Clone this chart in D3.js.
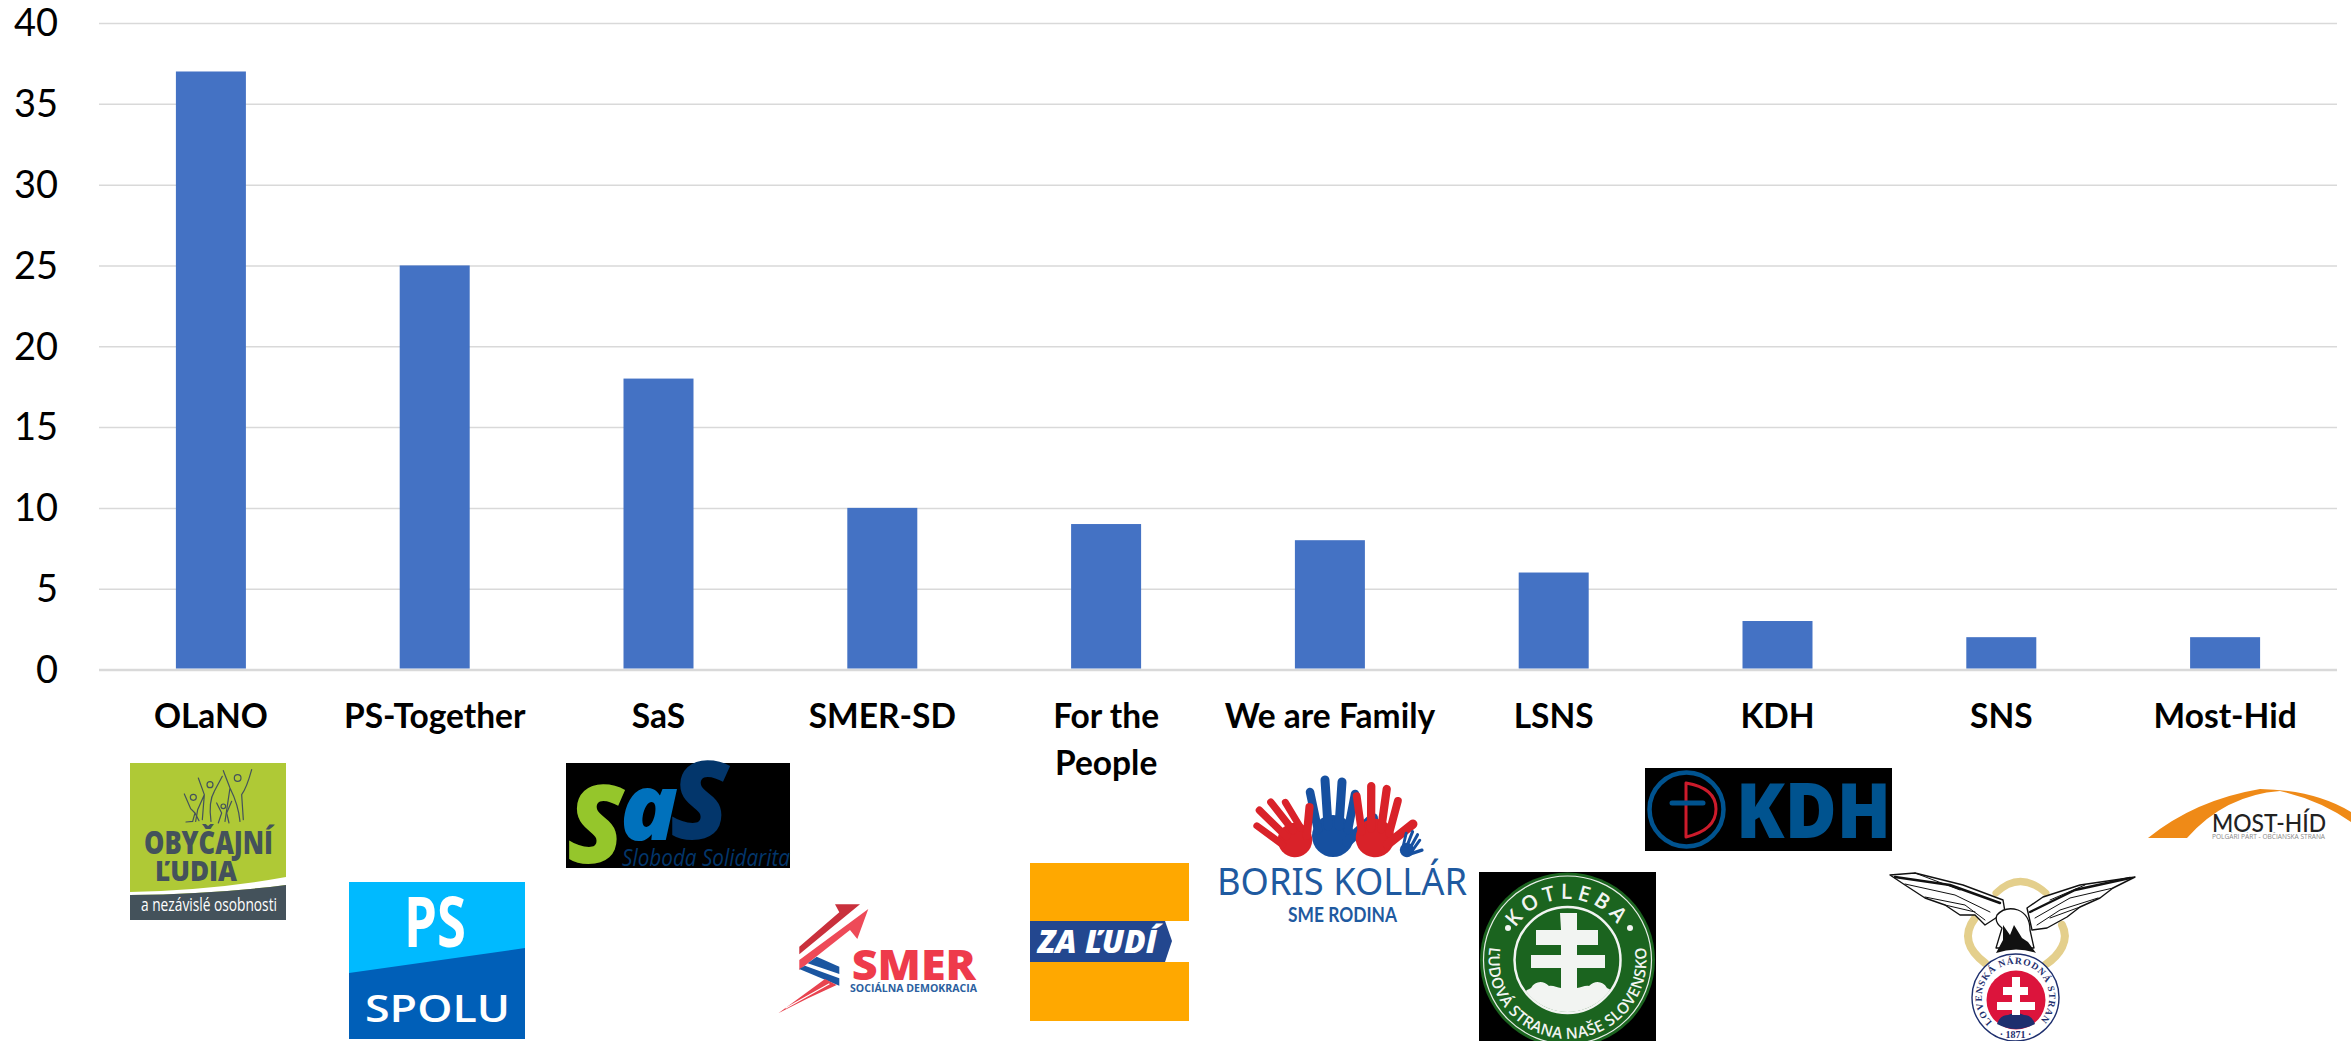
<!DOCTYPE html>
<html><head><meta charset="utf-8">
<script src="https://cdn.jsdelivr.net/npm/d3@7/dist/d3.min.js"></script>
<style>html,body{margin:0;padding:0;background:#fff;overflow:hidden}svg{display:block}</style>
</head><body><svg id="c" width="2351" height="1041"></svg>
<script>
const categories=["OLaNO","PS-Together","SaS","SMER-SD","For the People","We are Family","LSNS","KDH","SNS","Most-Hid"];
const seats=[37,25,18,10,9,8,6,3,2,2];
const yTicks=[0,5,10,15,20,25,30,35,40];
const wrapped={"For the People":["For the","People"]};

const svg=d3.select("#c");
const pad=1-70/223.8;
const x=d3.scaleBand().domain(categories).range([99,2337]).paddingInner(pad).paddingOuter(pad/2);
const y=d3.scaleLinear().domain([0,40]).range([669.5,23]);
const FONT="Lato, sans-serif";

const gy=svg.append("g").attr("transform","translate(99,0)")
 .call(d3.axisLeft(y).tickValues(yTicks).tickSize(-2238).tickPadding(41).tickFormat(d3.format("d")));
gy.select(".domain").remove();
gy.selectAll(".tick line").attr("stroke","#D9D9D9").attr("stroke-width",d=>d===0?2.5:1.5);
gy.selectAll(".tick text").attr("fill","#000").attr("font-family",FONT).attr("font-size",38).attr("dy","0.34em");

svg.append("g").selectAll("rect").data(categories).join("rect")
 .attr("x",d=>x(d)).attr("width",x.bandwidth())
 .attr("y",(d,i)=>y(seats[i])).attr("height",(d,i)=>y(0)-y(seats[i])-1).attr("fill","#4472C4");

const gx=svg.append("g").attr("transform","translate(0,670)").call(d3.axisBottom(x).tickSize(0).tickPadding(0));
gx.select(".domain").remove();
gx.selectAll(".tick text").each(function(d){
  const t=d3.select(this).text(null).attr("font-family",FONT).attr("font-weight",700).attr("font-size",33.5).attr("fill","#000").attr("y",0).attr("dy",null);
  (wrapped[d]||[d]).forEach((s,i)=>{t.append("tspan").attr("x",0).attr("y",58+i*46.5).text(s);});
});

// ---------- logos ----------
const L=svg.append("g");
const OS="'Open Sans',sans-serif";
function rect(a,b,c,d,f){return L.append("rect").attr("x",a).attr("y",b).attr("width",c-a).attr("height",d-b).attr("fill",f)}
function poly(p,f){return L.append("polygon").attr("points",p.map(q=>q.join(",")).join(" ")).attr("fill",f)}
function path(d,f,s,w){return L.append("path").attr("d",d).attr("fill",f||"none").attr("stroke",s||"none").attr("stroke-width",w||0).attr("stroke-linecap","round").attr("stroke-linejoin","round")}
function txt(s,x0,x1,base,size,fill,o={}){return L.append("text").attr("x",x0).attr("y",base).attr("font-family",o.font||OS).attr("font-size",size)
  .attr("font-weight",o.w||700).attr("font-style",o.i?"italic":"normal").attr("fill",fill).attr("textLength",x1-x0).attr("lengthAdjust","spacingAndGlyphs").text(s)}
const defs=L.append("defs");

// OLaNO
rect(130,763,286,920,"#AFC936");
path("M130 892 Q215 890 286 877 L286 885 Q215 894 130 895 Z","#fff");
path("M130 895 Q215 894 286 885 L286 920 L130 920 Z","#44525B");
txt("OBYČAJNÍ",144,273,854,31,"#44525B",{w:800});
txt("ĽUDIA",155,237,881,29,"#44525B",{w:800});
txt("a nezávislé osobnosti",141,277,911,19,"#fff",{w:400});
const P=L.append("g").attr("transform","translate(125,758) scale(0.3333)").attr("fill","none").attr("stroke","#44525B").attr("stroke-width",3.6).attr("stroke-linecap","round");
["M178 108 L197 152 L210 165 L203 190 L183 192 M210 165 L222 188",
 "M220 60 L238 110 L218 155 L212 190 M238 110 L232 185 M268 100 Q250 130 258 190 M268 100 L292 55",
 "M295 38 L315 90 Q340 140 345 190 M380 35 Q365 90 350 110 L355 185 M315 90 L300 190",
 "M275 135 L290 165 L280 195 M320 130 L305 165 L312 195"].forEach(d=>P.append("path").attr("d",d));
[[205,118,9],[255,80,9],[338,60,10],[295,145,7]].forEach(c=>P.append("circle").attr("cx",c[0]).attr("cy",c[1]).attr("r",c[2]));

// PS
rect(349,882,525,1039,"#00BAFF");
poly([[349,973],[525,948],[525,1039],[349,1039]],"#005FB8");
txt("PS",404,466,947,70,"#fff");
txt("SPOLU",365,510,1022,37,"#fff",{w:600});

// SaS
rect(566,763,790,868,"#000");
txt("S",567,624,863,108,"#95C62B",{i:1,w:800});
txt("a",620,678,840,92,"#0071BC",{i:1,w:800});
txt("S",670,729,839,108,"#03366B",{i:1,w:800});
txt("Sloboda Solidarita",622,790,866,24,"#03366B",{i:1,w:400});

// SMER
poly([[799.3,946.7],[839.3,912.3],[835,904.3],[860,904.3],[799.3,954.3]],"#C9303C");
poly([[799.3,960],[868.3,909],[857.3,939],[850,930],[799.3,970]],"#EE4A58");
poly([[807.7,963.3],[816.7,956.7],[839.3,966.7],[839.3,974]],"#1B56A0");
poly([[799.3,969],[805,965.7],[839.3,978.3],[839.3,985.7]],"#1B56A0");
poly([[778.3,1013.3],[825,979],[836.7,985],[808,998.3]],"#E8434F");
path("M786 1008 L829 984","none","#fff",1.2);
txt("SMER",851.7,976,980,42,"#EE3B4B",{w:800});
txt("SOCIÁLNA DEMOKRACIA",850,977,992,10.5,"#2B5FA0",{w:700});

// ZA LUDI
rect(1030,863,1189,921,"#FFA800");
rect(1030,962,1189,1021,"#FFA800");
poly([[1030,921],[1165,921],[1172,941],[1165,962],[1030,962]],"#23478F");
txt("ZA ĽUDÍ",1038,1157,953,32,"#fff",{i:1,w:800});

// Boris Kollar
function hand(cx,cy,s,rot,col){
  const g=L.append("g").attr("transform",`translate(${cx},${cy}) rotate(${rot}) scale(${s})`);
  g.append("ellipse").attr("cx",0).attr("cy",0).attr("rx",21).attr("ry",21).attr("fill",col);
  [[-15,-6,-23,-44,8.5],[-5,-10,-8,-56,9],[6,-10,9,-54,9],[15,-6,22,-42,8.5],[14,6,40,-18,10]].forEach(f=>
    g.append("line").attr("x1",f[0]).attr("y1",f[1]).attr("x2",f[2]).attr("y2",f[3]).attr("stroke",col).attr("stroke-width",f[4]).attr("stroke-linecap","round"));
}
hand(1333,836,1,0,"#1650A0");
hand(1295,840,0.82,-42,"#D92229");
hand(1375,838,0.92,4,"#D92229");
hand(1407,850,0.34,25,"#1650A0");
txt("BORIS KOLLÁR",1217,1467,895,38,"#1F5AA0",{w:400,font:"'Noto Sans',sans-serif"});
txt("SME RODINA",1288,1397,922,20,"#1F5AA0",{w:700,font:FONT});

// Kotleba
rect(1479,872,1656,1041,"#000");
defs.append("clipPath").attr("id","kc").append("rect").attr("x",1479).attr("y",872).attr("width",177).attr("height",169);
const K=L.append("g").attr("clip-path","url(#kc)");
const kx=1567.5,ky=960;
K.append("circle").attr("cx",kx).attr("cy",ky).attr("r",87.5).attr("fill","#1B641F");
K.append("circle").attr("cx",kx).attr("cy",ky).attr("r",84).attr("fill","none").attr("stroke","#E8EEE8").attr("stroke-width",1.2);
K.append("circle").attr("cx",kx).attr("cy",ky).attr("r",53).attr("fill","none").attr("stroke","#F2F4F2").attr("stroke-width",2.5);
defs.append("clipPath").attr("id","ki").append("circle").attr("cx",kx).attr("cy",ky).attr("r",52);
K.append("path").attr("fill","#F2F4F2").attr("d","M1560 913 h17 v17 h21 v15 h-21 v10 h28 v13 h-28 v20 c4 0 8 -3 12 -2 c6 -6 14 -5 18 2 c4 2 8 4 12 10 v30 h-100 v-30 c4 -6 8 -8 12 -10 c4 -7 12 -8 18 -2 c4 -1 8 2 12 2 v-20 h-30 v-13 h30 v-10 h-25 v-15 h25 z").attr("clip-path","url(#ki)");
[[1508,928],[1630,928]].forEach(c=>K.append("circle").attr("cx",c[0]).attr("cy",c[1]).attr("r",3).attr("fill","#F2F4F2"));
defs.append("path").attr("id","karcT").attr("d",`M${kx-61} ${ky} A61 61 0 0 1 ${kx+61} ${ky}`);
defs.append("path").attr("id","karcB").attr("d",`M1491 940 A79 79 0 1 0 1644 940`);
L.append("text").attr("font-family",OS).attr("font-weight",600).attr("font-size",21).attr("fill","#F2F4F2").attr("letter-spacing",4.5).attr("text-anchor","middle")
  .append("textPath").attr("href","#karcT").attr("startOffset","50%").text("KOTLEBA");
L.append("text").attr("font-family",OS).attr("font-weight",600).attr("font-size",15.5).attr("fill","#F2F4F2").attr("letter-spacing",0.3).attr("text-anchor","middle")
  .append("textPath").attr("href","#karcB").attr("startOffset","50%").text("ĽUDOVÁ STRANA NAŠE SLOVENSKO");

// KDH
rect(1645,768,1892,851,"#000");
L.append("circle").attr("cx",1686.5).attr("cy",809.5).attr("r",37).attr("fill","none").attr("stroke","#00538F").attr("stroke-width",4.5);
path("M1686 783 L1686 837 Q1716 830 1716 809 Q1716 788 1686 783 Z","none","#CC1B2B",3);
path("M1672 803 H1703","none","#00538F",5);
txt("KDH",1736,1891,838,76,"#00538F",{w:800});

// SNS
const gold="#E4CF8C";
path("M1996 893 Q2020 870 2046 893","none",gold,7);
path("M1975 918 C1962 935 1968 950 1985 963","none",gold,8);
path("M2062 925 C2070 940 2060 955 2045 965","none",gold,8);
const wingL="M1890 875 L1915 873 L1963 885 L2003 900 L2005 912 L1985 925 L1975 915 L1960 915 L1945 905 L1925 898 L1905 885 Z";
const wingR="M2027 908 L2043 897 L2080 885 L2135 877 L2113 888 L2100 898 L2080 907 L2067 917 L2047 928 L2032 930 Z";
path(wingL,"#fff","#111",1.4);
path(wingR,"#fff","#111",1.4);
["M1895 877 L1950 885 L2000 903","M1905 884 L1955 895 L1990 912","M1925 897 L1965 905 L1985 920","M1915 873 L1960 890","M1945 905 L1975 912"].forEach(d=>path(d,"none","#111",d.includes("2000")?2.4:1));
["M2130 878 L2075 890 L2030 912","M2113 888 L2070 898 L2035 918","M2098 898 L2060 910 L2037 925","M2085 885 L2050 900","M2080 907 L2050 918"].forEach(d=>path(d,"none","#111",d.includes("2030")?2.4:1));
path("M1997 915 Q2005 906 2018 910 Q2030 915 2030 930 L2034 948 L1996 948 L2002 928 Q1994 922 1997 915 Z","#fff","#111",1.3);
path("M1996 953 L2003 940 L2003 925 L2010 935 L2014 925 L2022 938 L2028 942 L2036 953 Q2016 946 1996 953 Z","#111");
const sx=2015.5,sy=997.5;
L.append("circle").attr("cx",sx).attr("cy",sy).attr("r",43.5).attr("fill","#fff").attr("stroke","#1E2F6E").attr("stroke-width",1.4);
L.append("circle").attr("cx",2016).attr("cy",1000).attr("r",29.5).attr("fill","#DC143C");
path("M1997 1024 Q2000 1015 2008 1015 Q2016 1011 2024 1015 Q2032 1015 2035 1024 Q2016 1034 1997 1024 Z","#1E2F6E");
path("M2012 977 h8 v10 h8 v8 h-8 v7 h15 v8 h-15 v5 h-8 v-5 h-15 v-8 h15 v-7 h-9 v-8 h9 z","#fff");
defs.append("path").attr("id","snsT").attr("d",`M${sx-21.5} ${sy+26} A33.7 33.7 0 1 1 ${sx+21.5} ${sy+26}`);
L.append("text").attr("font-family","'Liberation Serif',serif").attr("font-weight",700).attr("font-size",9.5).attr("fill","#1E2F6E").attr("letter-spacing",0.9).attr("text-anchor","middle")
  .append("textPath").attr("href","#snsT").attr("startOffset","50%").text("SLOVENSKÁ NÁRODNÁ STRANA");
L.append("text").attr("x",sx).attr("y",1038).attr("text-anchor","middle").attr("font-family","'Liberation Serif',serif").attr("font-weight",700).attr("font-size",10).attr("fill","#1E2F6E").text("· 1871 ·");

// Most-Hid
path("M2148 838 Q2195 800 2260 789 Q2315 790 2351 812 L2351 822 Q2320 800 2280 791 Q2225 795 2187 838 Z","#EF8A17");
txt("MOST-HÍD",2212,2326,832,24,"#222",{w:500,font:FONT});
txt("POLGÁRI PÁRT - OBČIANSKA STRANA",2212,2325,839,7,"#888",{w:400});
</script></body></html>
